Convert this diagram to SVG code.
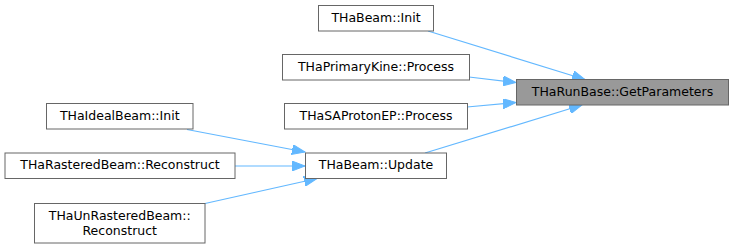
<svg xmlns="http://www.w3.org/2000/svg" width="733" height="249" viewBox="0 0 733 249">
<style>
  .box { fill: #ffffff; stroke: #666666; stroke-width: 1; }
  .hl { fill: #999999; stroke: #666666; stroke-width: 1; }
  .lbl { font-family: "DejaVu Sans", sans-serif; font-size: 12.5px; fill: #000000; text-anchor: middle; }
  .edge { fill: none; stroke: #63b8ff; stroke-width: 1.2; marker-end: url(#arr); }
</style>
<defs>
  <marker id="arr" markerUnits="userSpaceOnUse" markerWidth="14" markerHeight="10" refX="13" refY="5" orient="auto">
    <path d="M0,0 L13,5 L0,10 z" fill="#63b8ff" stroke="#63b8ff" stroke-width="1"/>
  </marker>
</defs>
<rect width="733" height="249" fill="#ffffff"/>

<g id="edges">
  <path class="edge" d="M428,31 L585,79.5"/>
  <path class="edge" d="M469,77 L516,82.5"/>
  <path class="edge" d="M467,107 L516,102.5"/>
  <path class="edge" d="M425,153 L582,105"/>
  <path class="edge" d="M187,129.5 L305,152"/>
  <path class="edge" d="M235,166 L305,166"/>
  <path class="edge" d="M205,203.5 L317,178.5"/>
</g>

<g id="node-getparameters">
  <rect class="hl" x="516.5" y="79.5" width="212" height="25.5"/>
  <text class="lbl" x="622.5" y="96">THaRunBase::GetParameters</text>
</g>
<g id="node-beam-init">
  <rect class="box" x="318.5" y="5.5" width="115" height="25.5"/>
  <text class="lbl" x="376" y="22">THaBeam::Init</text>
</g>
<g id="node-primarykine">
  <rect class="box" x="282.5" y="54.5" width="187" height="25.5"/>
  <text class="lbl" x="376" y="71">THaPrimaryKine::Process</text>
</g>
<g id="node-saprotonep">
  <rect class="box" x="284.5" y="103.5" width="183" height="25.5"/>
  <text class="lbl" x="376" y="120">THaSAProtonEP::Process</text>
</g>
<g id="node-beam-update">
  <rect class="box" x="305.5" y="153" width="141" height="25.5"/>
  <text class="lbl" x="376" y="169">THaBeam::Update</text>
</g>
<g id="node-idealbeam">
  <rect class="box" x="46.5" y="103.5" width="146.5" height="25.5"/>
  <text class="lbl" x="119.75" y="120">THaIdealBeam::Init</text>
</g>
<g id="node-rasteredbeam">
  <rect class="box" x="5" y="153" width="230" height="25.5"/>
  <text class="lbl" x="120" y="169">THaRasteredBeam::Reconstruct</text>
</g>
<g id="node-unrasteredbeam">
  <rect class="box" x="34.5" y="203.5" width="170.5" height="39.5"/>
  <text class="lbl" x="119.75" y="220">THaUnRasteredBeam::</text>
  <text class="lbl" x="119.75" y="234.5">Reconstruct</text>
</g>
</svg>
